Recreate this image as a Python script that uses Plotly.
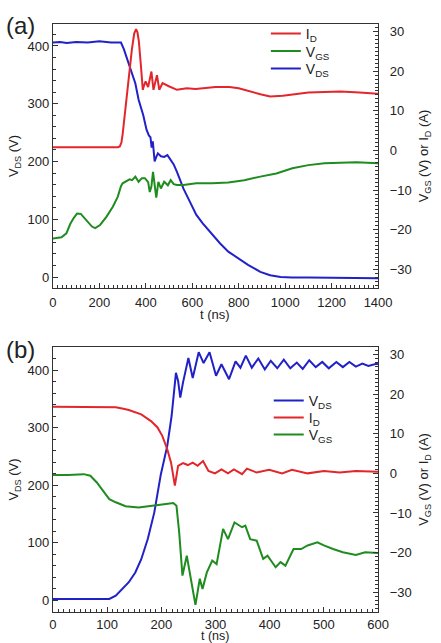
import plotly.graph_objects as go

# ---------------- Panel (a) data ----------------
ta_id = [0, 100, 200, 280, 288, 295, 300, 310, 320, 330, 340, 350, 358, 364, 370, 378, 387,
         393, 399, 410, 424, 433, 448, 458, 472, 499, 534, 576, 614, 700, 760, 800, 840, 893,
         935, 990, 1100, 1238, 1320, 1400]
a_id = [0.8, 0.8, 0.8, 0.8, 1.0, 2.0, 4.0, 9.5, 15.0, 20.5, 25.5, 29.5, 30.6, 29.8, 27.5, 22.0, 15.3,
        16.5, 17.4, 16.0, 19.9, 15.3, 19.0, 15.3, 17.0, 16.2, 15.3, 15.7, 15.5, 16.0, 16.0, 15.7, 15.0, 14.2,
        13.6, 13.8, 14.6, 14.9, 14.6, 14.3]

ta_vgs = [0, 20, 37, 58, 75, 90, 104, 120, 141, 168, 182, 203, 231, 258, 279, 293, 300, 313, 330,
          341, 355, 369, 383, 396, 410, 417, 424, 431, 438, 445, 454, 465, 479, 495, 507, 520, 534,
          562, 617, 686, 755, 824, 893, 962, 1031, 1100, 1169, 1238, 1307, 1400]
a_vgs = [-22.2, -22.0, -21.9, -20.9, -18.5, -17.0, -15.9, -16.0, -17.5, -19.2, -19.6, -18.8, -16.7, -14.2,
         -11.7, -9.0, -8.3, -7.9, -7.3, -7.5, -6.6, -7.9, -7.0, -7.0, -8.0, -10.5, -9.1, -5.4, -9.0, -11.9,
         -7.9, -9.6, -7.9, -8.8, -7.5, -8.5, -8.7, -8.7, -8.3, -8.3, -8.1, -7.5, -6.6, -5.8, -4.5, -3.7,
         -3.2, -3.1, -3.0, -3.2]

ta_vds = [0, 30, 60, 100, 150, 200, 250, 293, 305, 318, 330, 340, 355, 369, 389, 403, 413, 420,
          425, 430, 438, 445, 452, 465, 479, 493, 507, 520, 534, 548, 562, 590, 617, 645, 686, 720,
          755, 800, 840, 893, 935, 980, 1030, 1100, 1200, 1300, 1400]
a_vds = [406, 407, 405, 407, 406, 408, 406, 406, 395, 380, 366, 354, 335, 307, 280, 255, 245, 242,
         224, 235, 200, 208, 214, 209, 208, 211, 203, 195, 182, 167, 153, 130, 108, 93, 73, 58,
         44, 31, 21, 9, 3, 0, -1, -1, -1, -2, -2]

# ---------------- Panel (b) data ----------------
tb_vds = [0, 50, 104, 116, 128, 140, 152, 163, 175, 187, 199, 211, 219, 227, 231, 235, 240, 250,
          258, 269, 278, 289, 301, 311, 325, 337, 346, 356, 367, 379, 391, 402, 414, 426, 438, 450,
          461, 473, 485, 497, 509, 523, 535, 547, 559, 571, 582, 597, 600]
b_vds = [2, 2, 2, 7.5, 19, 31, 48, 71, 106, 152, 218, 268, 320, 395, 381, 352, 378, 421,
         386, 431, 412, 431, 390, 410, 384, 415, 404, 425, 404, 420, 401, 416, 403, 418, 403, 413,
         402, 417, 405, 414, 403, 414, 405, 414, 406, 411, 407, 411, 410]

tb_id = [0, 50, 110, 116, 130, 140, 163, 181, 193, 202, 211, 218, 225, 231, 240, 249, 258, 267,
         277, 287, 299, 311, 323, 334, 349, 358, 376, 399, 423, 441, 470, 500, 529, 559, 600]
b_id = [16.8, 16.8, 16.8, 16.7, 16.3, 16.0, 14.9, 13.2, 11.6, 9.4, 6.1, 2.7, -3.1, 1.9, 2.6, 2.1,
        2.7, 1.9, 3.1, 0.6, 0.0, 1.0, 0.0, 1.0, -0.2, 1.2, 0.2, 0.9, 0.0, 0.9, 0.0, 0.6, 0.2, 0.6, 0.4]

tb_vgs = [0, 28, 57, 69, 81, 93, 104, 116, 134, 158, 181, 205, 222, 228, 233, 239, 247, 255, 263,
          271, 276, 284, 294, 302, 314, 323, 335, 349, 355, 364, 376, 388, 396, 411, 420, 429,
          444, 458, 470, 488, 500, 517, 535, 559, 576, 600]
b_vgs = [-0.4, -0.4, -0.2, -0.6, -2.3, -4.4, -6.5, -7.3, -8.3, -8.6, -8.3, -7.8, -7.5, -8.2, -14.9,
         -25.8, -20.8, -27.0, -33.2, -26.6, -29.2, -25.0, -22.0, -22.9, -14.0, -16.6, -12.4, -13.6,
         -13.2, -16.6, -17.0, -21.6, -20.8, -23.7, -22.4, -23.3, -19.1, -19.1, -18.2, -17.4, -18.2,
         -19.1, -19.9, -20.6, -19.9, -20.1]

x_ticks_a = [0, 200, 400, 600, 800, 1000, 1200, 1400]
x_ticks_b = [0, 100, 200, 300, 400, 500, 600]
vds_ticks = [0, 100, 200, 300, 400]
right_ticks = [-30, -20, -10, 0, 10, 20, 30]

RED = "#e3262b"
GREEN = "#1f8c1f"
BLUE = "#2121c8"
FONT = "Liberation Sans, Arial, sans-serif"
TXT = "#222222"
LW = 2.0

W, H = 441, 643

fig = go.Figure()

fig.add_trace(go.Scatter(x=ta_id, y=a_id, name="I<sub>D</sub>", mode="lines",
                         line=dict(color=RED, width=LW), xaxis="x", yaxis="y2", legend="legend"))
fig.add_trace(go.Scatter(x=ta_vgs, y=a_vgs, name="V<sub>GS</sub>", mode="lines",
                         line=dict(color=GREEN, width=LW), xaxis="x", yaxis="y2", legend="legend2"))
fig.add_trace(go.Scatter(x=ta_vds, y=a_vds, name="V<sub>DS</sub>", mode="lines",
                         line=dict(color=BLUE, width=LW), xaxis="x", yaxis="y", legend="legend3"))

fig.add_trace(go.Scatter(x=tb_vds, y=b_vds, name="V<sub>DS</sub>", mode="lines",
                         line=dict(color=BLUE, width=LW), xaxis="x2", yaxis="y3", legend="legend4"))
fig.add_trace(go.Scatter(x=tb_id, y=b_id, name="I<sub>D</sub>", mode="lines",
                         line=dict(color=RED, width=LW), xaxis="x2", yaxis="y4", legend="legend5"))
fig.add_trace(go.Scatter(x=tb_vgs, y=b_vgs, name="V<sub>GS</sub>", mode="lines",
                         line=dict(color=GREEN, width=LW), xaxis="x2", yaxis="y4", legend="legend6"))

xdom = [51 / W, 390 / W]
ydom_a = [1 - 288 / H, 1 - 24 / H]
ydom_b = [1 - 612 / H, 1 - 347 / H]

tickfont = dict(family=FONT, size=13, color=TXT)
titlefont = dict(family=FONT, size=13, color=TXT)


def xax(anchor, rng, tickvals, minor_dtick, standoff):
    return dict(domain=xdom, anchor=anchor, range=rng, tickvals=tickvals,
                showline=True, linecolor="#333", linewidth=1.2, mirror=True,
                ticks="inside", ticklen=5, tickcolor="#333", ticklabelstandoff=standoff,
                minor=dict(dtick=minor_dtick, ticks="inside", ticklen=3, tickcolor="#333"),
                showgrid=False, zeroline=False, tickfont=tickfont)


def yleft(dom, anchor, rng):
    return dict(domain=dom, anchor=anchor, range=rng, tickvals=vds_ticks,
                showline=True, linecolor="#333", linewidth=1.2,
                ticks="inside", ticklen=5, tickcolor="#333",
                minor=dict(dtick=20, ticks="inside", ticklen=3, tickcolor="#333"),
                showgrid=False, zeroline=False, tickfont=tickfont,
                title=dict(text="V<sub>DS</sub> (V)", font=titlefont, standoff=5))


def yright(overlay, anchor, rng):
    return dict(overlaying=overlay, anchor=anchor, side="right", range=rng, tickvals=right_ticks,
                showline=True, linecolor="#333", linewidth=1.2,
                ticks="inside", ticklen=5, tickcolor="#333", ticklabelstandoff=8,
                minor=dict(dtick=1, ticks="inside", ticklen=3, tickcolor="#333"),
                showgrid=False, zeroline=False, tickfont=tickfont,
                title=dict(text="V<sub>GS</sub> (V) or I<sub>D</sub> (A)", font=titlefont, standoff=8))


def leg(x_px, y_px):
    return dict(x=x_px / W, y=1 - y_px / H, xanchor="left", yanchor="middle",
                bgcolor="rgba(0,0,0,0)", font=dict(family=FONT, size=14, color=TXT),
                itemwidth=30, tracegroupgap=0)


fig.update_layout(
    width=W, height=H,
    margin=dict(l=0, r=0, t=0, b=0),
    paper_bgcolor="white", plot_bgcolor="white",
    font=dict(family=FONT, color=TXT),
    xaxis=xax("y", [0, 1400], x_ticks_a, 20, 2),
    yaxis=yleft(ydom_a, "x", [-19, 438]),
    yaxis2=yright("y", "x", [-34.7, 31.9]),
    xaxis2=xax("y3", [0, 600], x_ticks_b, 10, 0),
    yaxis3=yleft(ydom_b, "x2", [-20.8, 440]),
    yaxis4=yright("y3", "x2", [-35, 31.9]),
    legend=leg(273, 34),
    legend2=leg(273, 51.5),
    legend3=leg(273, 69),
    legend4=leg(276, 401),
    legend5=leg(276, 418),
    legend6=leg(276, 435),
    showlegend=True,
    annotations=[
        dict(text="(a)", x=0, y=1 - 25 / H, xref="paper", yref="paper", xanchor="left",
             yanchor="middle", showarrow=False, font=dict(family=FONT, size=24, color=TXT)),
        dict(text="(b)", x=0, y=1 - 349 / H, xref="paper", yref="paper", xanchor="left",
             yanchor="middle", showarrow=False, font=dict(family=FONT, size=24, color=TXT)),
        dict(text="t (ns)", x=220 / W, y=1 - 314 / H, xref="paper", yref="paper", xanchor="center",
             yanchor="middle", showarrow=False, font=titlefont),
        dict(text="t (ns)", x=220 / W, y=1 - 636 / H, xref="paper", yref="paper", xanchor="center",
             yanchor="middle", showarrow=False, font=dict(family=FONT, size=12.5, color=TXT)),
    ],
)

fig.write_html("out.html")
